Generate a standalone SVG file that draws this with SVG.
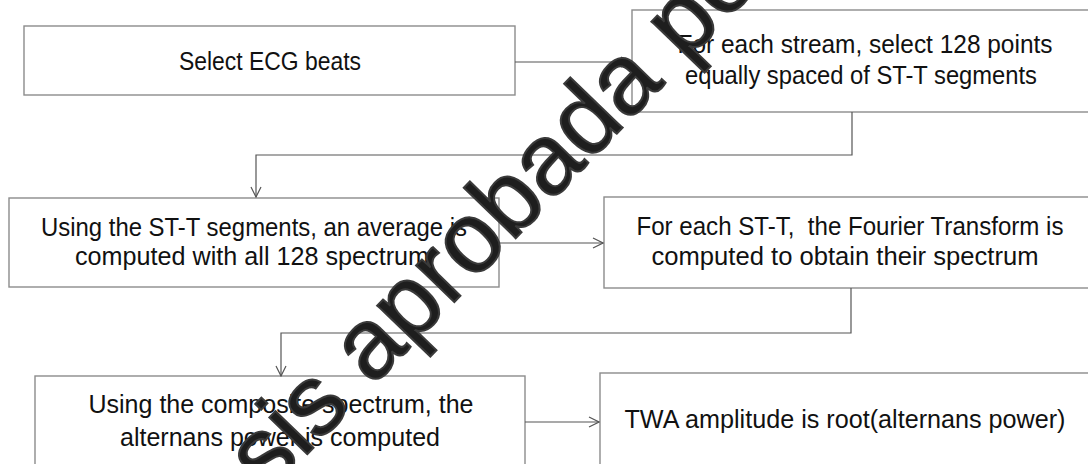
<svg xmlns="http://www.w3.org/2000/svg" width="1088" height="464" viewBox="0 0 1088 464">
<style>
.box{fill:#fff;stroke:#8c8c8c;stroke-width:1.4}
.lbl{font-family:"Liberation Sans",Arial,sans-serif;font-size:25px;fill:#111;text-anchor:middle;white-space:pre}
.con{fill:none;stroke:#555;stroke-width:1.2}
.wm{font-family:"Liberation Sans",Arial,sans-serif;font-size:100px;fill:#1e1e1e;stroke:#3a3a3a;stroke-width:2}
</style>
<defs>
<marker id="ah" viewBox="0 0 12 12" refX="11" refY="6" markerWidth="12" markerHeight="12" markerUnits="userSpaceOnUse" orient="auto">
<path d="M1,1 L11,6 L1,11" fill="none" stroke="#555" stroke-width="1.2"/>
</marker>
</defs>
<rect width="1088" height="464" fill="#fff"/>
<g id="n1"><rect class="box" x="24" y="26" width="491" height="69"/>
<text class="lbl" x="270" y="70" textLength="182" lengthAdjust="spacingAndGlyphs">Select ECG beats</text></g>
<g id="n2"><rect class="box" x="632" y="10" width="466" height="102"/>
<text class="lbl" x="865" y="53" textLength="375" lengthAdjust="spacingAndGlyphs">For each stream, select 128 points</text>
<text class="lbl" x="861" y="84" textLength="352" lengthAdjust="spacingAndGlyphs">equally spaced of ST-T segments</text></g>
<g id="n3"><rect class="box" x="9" y="198" width="490" height="89"/>
<text class="lbl" x="254" y="236" textLength="426" lengthAdjust="spacingAndGlyphs">Using the ST-T segments, an average is</text>
<text class="lbl" x="252" y="265" textLength="354" lengthAdjust="spacingAndGlyphs">computed with all 128 spectrum</text></g>
<g id="n4"><rect class="box" x="604" y="197" width="490" height="91"/>
<text class="lbl" x="850" y="235" textLength="427" lengthAdjust="spacingAndGlyphs">For each ST-T,  the Fourier Transform is</text>
<text class="lbl" x="845" y="265" textLength="387" lengthAdjust="spacingAndGlyphs">computed to obtain their spectrum</text></g>
<g id="n5"><rect class="box" x="35" y="376" width="490" height="100"/>
<text class="lbl" x="281" y="413" textLength="385" lengthAdjust="spacingAndGlyphs">Using the composite spectrum, the</text>
<text class="lbl" x="280" y="446" textLength="320" lengthAdjust="spacingAndGlyphs">alternans power is computed</text></g>
<g id="n6"><rect class="box" x="600" y="373" width="495" height="100"/>
<text class="lbl" x="845" y="428" textLength="441" lengthAdjust="spacingAndGlyphs">TWA amplitude is root(alternans power)</text></g>
<g id="connectors">
<path class="con" d="M515,62 H631" marker-end="url(#ah)"/>
<path class="con" d="M852,112 V155 H256 V197" marker-end="url(#ah)"/>
<path class="con" d="M499,243 H603" marker-end="url(#ah)"/>
<path class="con" d="M851,288 V333 H281 V376" marker-end="url(#ah)"/>
<path class="con" d="M525,422 H599" marker-end="url(#ah)"/>
</g>
<g id="watermark" transform="translate(508,209) rotate(-46)">
<text class="wm" x="-478" y="26">Tesis aprobada por</text>
</g>
</svg>
